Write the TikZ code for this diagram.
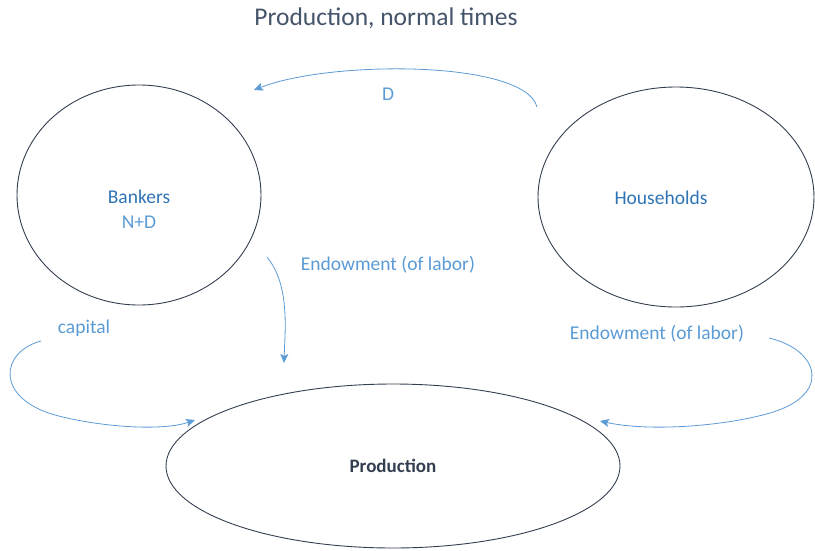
\documentclass[tikz,border=0pt]{standalone}
\usepackage{fontspec}
\setmainfont{Carlito}
\usetikzlibrary{shapes.geometric,arrows.meta}
\definecolor{lineblue}{HTML}{5B9BD5}
\definecolor{darkblue}{HTML}{2E74B5}
\definecolor{slate}{HTML}{44546A}
\definecolor{outline}{HTML}{333F50}
\begin{document}
\begin{tikzpicture}[>={Stealth[length=9pt,width=8pt,inset=2pt]}, x=1pt, y=-1pt]
\tikzstyle{agent}=[draw=outline,ellipse,line width=0.9pt,inner sep=0pt]
\tikzstyle{flow}=[lineblue,font=\fontsize{19.5}{22}\selectfont]
\tikzstyle{flowline}=[draw=lineblue,line width=0.8pt,->]
\useasboundingbox (0,0) rectangle (815,550);
\node[slate,font=\fontsize{25.5}{30}\selectfont](title) at (386,18) {Production, normal times};
% agents
\node[agent,minimum width=244pt,minimum height=220pt](bank) at (139,195) {};
\node[agent,minimum width=276pt,minimum height=220pt](house) at (676,197) {};
\node[agent,minimum width=454pt,minimum height=164pt](prod) at (393,466) {};
\node[darkblue,font=\fontsize{19.5}{22}\selectfont](banklbl) at (139,197) {Bankers};
\node[flow](bankdep) at (139,222) {N+D};
\node[darkblue,font=\fontsize{19.5}{22}\selectfont](houselbl) at (661,198) {Households};
\node[outline,font=\bfseries\fontsize{19}{22}\selectfont](prodlbl) at (393,466) {Production};
% flow labels
\node[flow](dlbl) at (388,94) {D};
\node[flow](endlbl) at (388,265) {Endowment (of labor)};
\node[flow](caplbl) at (84,328) {capital};
\node[flow](hendlbl) at (657,334) {Endowment (of labor)};
% arrow ends
\coordinate (d0) at (537,107);
\coordinate (d1) at (254,90);
\coordinate (e0) at (267,257);
\coordinate (e1) at (284,363);
\coordinate (c0) at (41,341);
\coordinate (c1) at (195,420);
\coordinate (h0) at (769,338);
\coordinate (h1) at (600,421);
\draw[flowline] (d0) .. controls (525,60) and (330,60) .. (d1);
\draw[flowline] (e0) .. controls (290,285) and (285,330) .. (e1);
\draw[flowline] (c0) .. controls (0,352) and (-5,398) .. (55,415) .. controls (95,426) and (160,432) .. (c1);
\draw[flowline] (h0) .. controls (820,350) and (832,395) .. (770,413) .. controls (725,426) and (650,432) .. (h1);
\end{tikzpicture}
\end{document}
